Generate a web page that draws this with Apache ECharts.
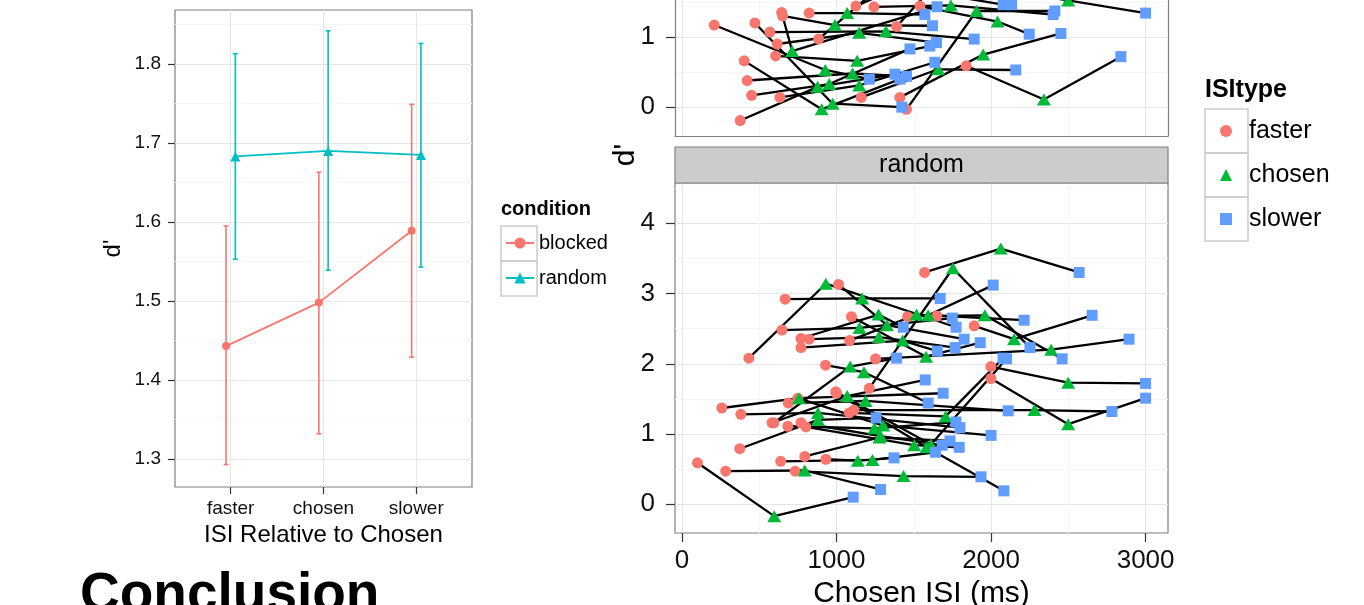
<!DOCTYPE html>
<html><head><meta charset="utf-8">
<script src="https://cdn.jsdelivr.net/npm/echarts@6/dist/echarts.min.js"></script>
<style>html,body{margin:0;padding:0;background:#fff}#chart{width:1364px;height:605px}</style>
</head><body><div id="chart"></div>
<script>
// ---------- data: left panel (mean d' by ISI type, with error bars) ----------
const isiLabels = ['faster', 'chosen', 'slower'];
const blockedMean  = [1.443, 1.498, 1.589];
const blockedLower = [1.293, 1.332, 1.429];
const blockedUpper = [1.595, 1.663, 1.749];
const randomMean   = [1.683, 1.690, 1.685];
const randomLower  = [1.553, 1.539, 1.543];
const randomUpper  = [1.813, 1.842, 1.826];
const leftYTicks = [1.3, 1.4, 1.5, 1.6, 1.7, 1.8];
const leftYMinor = [1.35, 1.45, 1.55, 1.65, 1.75, 1.85];

// ---------- data: right panels (per subject d' vs ISI) ----------
const rightXTicks = [0, 1000, 2000, 3000];
const rightXMinor = [500, 1500, 2500];
const rightYTicks = [0, 1, 2, 3, 4];
const rightYMinor = [0.5, 1.5, 2.5, 3.5, 4.5];

// random condition
const rndFasterX = [100,283,732,639,931,795,374,258,381,583,595,685,688,750,770,802,433,668,1570,1212,1013,647,1460,1649,1891,1999,1999,1113,1082,1000,929,770,823,770,1085,1097,1253,995];
const rndFasterY = [0.59,0.47,0.47,0.61,0.64,0.68,0.79,1.37,1.28,1.16,1.16,1.11,1.44,1.51,1.16,1.10,2.08,2.92,3.30,1.65,3.13,2.48,2.67,2.68,2.54,1.96,1.79,1.34,1.30,1.58,1.98,2.36,2.35,2.23,2.33,2.67,2.07,1.60];
const rndChosenX = [597,794,1434,1233,1138,1278,880,757,880,1069,1089,1245,1188,1302,1285,1503,931,1166,2063,1753,1326,1149,1593,1960,2149,2499,2499,2281,1706,1583,1178,1272,1274,1428,1518,1580,2389,1611];
const rndChosenY = [-0.17,0.48,0.40,0.63,0.62,0.95,1.20,1.51,1.30,1.54,1.96,1.08,1.47,1.12,0.97,0.84,3.14,2.93,3.64,3.36,2.55,2.51,2.69,2.69,2.35,1.73,1.14,1.34,1.25,0.81,1.88,2.70,2.38,2.33,2.70,2.10,2.20,0.85];
const rndSlowerX = [1108,1285,1935,1641,1372,1734,1256,1690,1799,1574,1389,1773,2111,2000,1684,1794,1774,1671,2570,2252,1826,1749,2014,2460,2654,3000,3000,2782,2078,2083,1593,1432,1768,1652,2214,1930,2893,2100];
const rndSlowerY = [0.10,0.21,0.39,0.74,0.66,0.90,1.23,1.58,1.09,1.77,2.08,1.17,1.33,0.98,0.84,0.81,2.52,2.93,3.30,2.23,2.35,2.65,3.12,2.07,2.69,1.72,1.51,1.32,2.08,0.19,1.44,2.52,2.23,2.18,2.62,2.30,2.35,2.07];

// blocked condition (upper facet, mostly cropped out of the picture)
const blkFasterX = [1839,1453,1160,1410,1540,1242,2000,209,472,377,403,422,451,634,606,617,569,884,823,651,645,1389,1126,300,500,700,400,900,1100,200,1300,600,1700,850,1000];
const blkFasterY = [0.59,-0.03,0.14,0.14,1.44,1.43,1.70,1.17,1.20,-0.19,0.66,0.38,0.17,0.14,0.73,0.90,1.07,0.97,1.34,1.30,1.35,1.15,1.44,1.80,2.40,1.90,2.90,2.00,3.30,2.60,2.20,3.60,2.80,1.60,1.55];
const blkChosenX = [2342,1906,1658,1949,2042,1740,2499,927,975,878,904,1104,953,1147,1134,1147,1320,1300,1069,990,713,1700,1550,800,1000,1200,900,1400,1600,750,1800,1100,2200,1350,1500];
const blkChosenY = [0.11,1.37,0.54,0.75,1.22,1.45,1.52,0.53,0.05,0.29,-0.03,0.48,0.33,0.31,0.66,1.06,1.08,1.75,1.34,1.17,0.80,1.90,1.85,2.10,2.20,2.50,3.10,2.40,3.00,2.70,2.60,4.35,3.20,1.90,2.10];
const blkSlowerX = [2840,2413,2160,2452,2247,2402,3000,1212,1423,1378,1410,1453,1475,1636,1604,1647,1891,2078,1572,1621,1651,2133,2200,1300,1500,1700,1400,1900,2100,1250,2300,1600,2700,1850,2000];
const blkSlowerY = [0.72,1.37,0.53,1.05,1.04,1.32,1.34,0.40,0.00,0.47,0.40,0.44,0.83,0.64,0.87,0.92,0.97,1.46,1.32,1.16,1.43,1.46,2.00,2.30,2.60,2.20,2.80,2.10,3.50,3.00,2.40,3.90,2.90,1.70,1.80];

// ---------- styling ----------
const FONT = '"Liberation Sans", Arial, Helvetica, sans-serif';
const C_BLOCKED = '#F8766D', C_RANDOM = '#00BFC4';
const C_FASTER = '#F8766D', C_CHOSEN = '#00BA38', C_SLOWER = '#619CFF';
const GRID_MAJOR = '#E6E6E6', GRID_MINOR = '#F6F6F6', BORDER = '#7F7F7F', TICK = '#333333';

const chart = echarts.init(document.getElementById('chart'), null, {renderer: 'canvas'});

const hiddenLine = {show: false, onZero: false};
const borderLine = {show: true, onZero: false, lineStyle: {color: BORDER, width: 1.2}};

function majorAxis(gridIndex, min, max, ticks, labelOpts, extra) {
  const inRange = ticks.filter(v => v >= min && v <= max);
  return Object.assign({
    type: 'value', gridIndex, min, max,
    axisLine: hiddenLine,
    axisTick: {show: !!labelOpts, customValues: inRange, length: labelOpts ? labelOpts.tickLen : 5, lineStyle: {color: TICK, width: 1.2}},
    axisLabel: labelOpts ? {show: true, customValues: inRange, fontFamily: FONT, fontSize: labelOpts.fontSize, color: '#111', margin: labelOpts.margin, formatter: labelOpts.formatter} : {show: false},
    splitLine: {show: true, lineStyle: {color: GRID_MAJOR, width: 1}},
    minorTick: {show: false}, minorSplitLine: {show: false}
  }, extra || {});
}
function minorAxis(gridIndex, min, max, ticks, position, extra) {
  const inRange = ticks.filter(v => v >= min && v <= max);
  return Object.assign({
    type: 'value', gridIndex, min, max, position,
    axisLine: hiddenLine,
    axisTick: {show: false, customValues: inRange},
    axisLabel: {show: false, customValues: inRange},
    splitLine: {show: true, lineStyle: {color: GRID_MINOR, width: 1.2}}
  }, extra || {});
}

const LY_MIN = 1.2646, LY_MAX = 1.8684;
const RX_MIN = -45, RX_MAX = 3145;
const RY_MIN = -0.41, RY_MAX = 4.574;
// the upper (blocked) facet is cropped by the picture: only its lower part is visible
const RY_TOP_VISIBLE = 1.5266;

const xAxis = [
  majorAxis(0, 0.4, 3.6, [1, 2, 3], {fontSize: 19, margin: 12, tickLen: 7, formatter: v => isiLabels[Math.round(v) - 1] || ''},
    {name: 'ISI Relative to Chosen', nameLocation: 'middle', nameGap: 34, nameTextStyle: {fontFamily: FONT, fontSize: 24, color: '#000'}}),
  majorAxis(1, RX_MIN, RX_MAX, rightXTicks, null, {axisLine: borderLine}),
  minorAxis(1, RX_MIN, RX_MAX, rightXMinor, 'top'),
  majorAxis(2, RX_MIN, RX_MAX, rightXTicks, {fontSize: 26, margin: 15, tickLen: 9, formatter: v => String(v)},
    {name: 'Chosen ISI (ms)', nameLocation: 'middle', nameGap: 42, nameTextStyle: {fontFamily: FONT, fontSize: 30, color: '#000'}}),
  minorAxis(2, RX_MIN, RX_MAX, rightXMinor, 'top')
];
const yAxis = [
  majorAxis(0, LY_MIN, LY_MAX, leftYTicks, {fontSize: 19, margin: 14, tickLen: 7, formatter: v => v.toFixed(1)},
    {name: "d'", nameLocation: 'middle', nameGap: 50, nameTextStyle: {fontFamily: FONT, fontSize: 24, color: '#000'}}),
  minorAxis(0, LY_MIN, LY_MAX, leftYMinor, 'right'),
  majorAxis(1, RY_MIN, RY_TOP_VISIBLE, rightYTicks, {fontSize: 26, margin: 20, tickLen: 9, formatter: v => String(v)}, {axisLine: borderLine}),
  minorAxis(1, RY_MIN, RY_TOP_VISIBLE, rightYMinor, 'right', {axisLine: borderLine}),
  majorAxis(2, RY_MIN, RY_MAX, rightYTicks, {fontSize: 26, margin: 20, tickLen: 9, formatter: v => String(v)}),
  minorAxis(2, RY_MIN, RY_MAX, rightYMinor, 'right')
];

const grid = [
  {left: 175, top: 10, width: 297, height: 477, show: true, borderColor: BORDER, borderWidth: 1.2, backgroundColor: '#fff', outerBoundsMode: 'none', containLabel: false},
  {left: 675, top: 0, width: 493, height: 136, show: false, outerBoundsMode: 'none', containLabel: false},
  {left: 675, top: 183, width: 493, height: 350, show: true, borderColor: BORDER, borderWidth: 1.2, backgroundColor: '#fff', outerBoundsMode: 'none', containLabel: false}
];

function errorBarSeries(name, color, xs, lower, upper) {
  return {
    type: 'custom', name: name, xAxisIndex: 0, yAxisIndex: 0, silent: true, z: 2,
    data: xs.map((x, i) => [x, lower[i], upper[i]]),
    encode: {x: 0, y: [1, 2]},
    renderItem: function (params, api) {
      const x = api.value(0);
      const lo = api.coord([x, api.value(1)]);
      const hi = api.coord([x, api.value(2)]);
      const w = 2.5;
      const st = {stroke: color, lineWidth: 1.6};
      return {type: 'group', children: [
        {type: 'line', shape: {x1: lo[0], y1: lo[1], x2: hi[0], y2: hi[1]}, style: st},
        {type: 'line', shape: {x1: lo[0] - w, y1: lo[1], x2: lo[0] + w, y2: lo[1]}, style: st},
        {type: 'line', shape: {x1: hi[0] - w, y1: hi[1], x2: hi[0] + w, y2: hi[1]}, style: st}
      ]};
    }
  };
}

const DODGE = 0.05;
const xBlocked = isiLabels.map((_, i) => i + 1 - DODGE);
const xRandom = isiLabels.map((_, i) => i + 1 + DODGE);

const series = [
  errorBarSeries('blocked-err', C_BLOCKED, xBlocked, blockedLower, blockedUpper),
  errorBarSeries('random-err', C_RANDOM, xRandom, randomLower, randomUpper),
  {type: 'line', name: 'blocked', xAxisIndex: 0, yAxisIndex: 0, z: 3,
   data: blockedMean.map((v, i) => [xBlocked[i], v]),
   symbol: 'circle', symbolSize: 8, showAllSymbol: true,
   lineStyle: {color: C_BLOCKED, width: 1.8}, itemStyle: {color: C_BLOCKED}},
  {type: 'line', name: 'random', xAxisIndex: 0, yAxisIndex: 0, z: 3,
   data: randomMean.map((v, i) => [xRandom[i], v]),
   symbol: 'triangle', symbolSize: 10, showAllSymbol: true,
   lineStyle: {color: C_RANDOM, width: 1.8}, itemStyle: {color: C_RANDOM}}
];

function addFacet(xIdx, yIdx, fx, fy, cx, cy, sx, sy) {
  for (let i = 0; i < fx.length; i++) {
    const pts = [[fx[i], fy[i]], [cx[i], cy[i]], [sx[i], sy[i]]].sort((a, b) => a[0] - b[0]);
    series.push({type: 'line', xAxisIndex: xIdx, yAxisIndex: yIdx, data: pts, symbol: 'none', silent: true, z: 2, clip: true,
      lineStyle: {color: '#000', width: 2.3}, legendHoverLink: false});
  }
  series.push({type: 'scatter', name: 'faster', xAxisIndex: xIdx, yAxisIndex: yIdx, z: 4, clip: true,
    data: fx.map((x, i) => [x, fy[i]]), symbol: 'circle', symbolSize: 11, itemStyle: {color: C_FASTER, opacity: 1}});
  series.push({type: 'scatter', name: 'chosen', xAxisIndex: xIdx, yAxisIndex: yIdx, z: 4, clip: true,
    data: cx.map((x, i) => [x, cy[i]]), symbol: 'triangle', symbolSize: [14, 12], itemStyle: {color: C_CHOSEN, opacity: 1}});
  series.push({type: 'scatter', name: 'slower', xAxisIndex: xIdx, yAxisIndex: yIdx, z: 4, clip: true,
    data: sx.map((x, i) => [x, sy[i]]), symbol: 'rect', symbolSize: 11, itemStyle: {color: C_SLOWER, opacity: 1}});
}
addFacet(1, 2, blkFasterX, blkFasterY, blkChosenX, blkChosenY, blkSlowerX, blkSlowerY);
addFacet(3, 4, rndFasterX, rndFasterY, rndChosenX, rndChosenY, rndSlowerX, rndSlowerY);

const legendBox = {stroke: '#CCCCCC', fill: 'none', lineWidth: 1.5};
const graphic = [
  {type: 'rect', shape: {x: 675, y: 147, width: 493, height: 36}, style: {fill: '#CCCCCC', stroke: BORDER, lineWidth: 1.2}, z: 10},
  {type: 'text', x: 921.5, y: 165, z: 11, style: {text: 'random', fill: '#000', font: '25px ' + FONT, align: 'center', verticalAlign: 'middle', textAlign: 'center', textVerticalAlign: 'middle'}},
  {type: 'text', x: 626, y: 155, rotation: Math.PI / 2, z: 11, style: {text: "d'", fill: '#000', font: '30px ' + FONT, align: 'center', verticalAlign: 'middle', textAlign: 'center', textVerticalAlign: 'middle'}},
  {type: 'text', x: 501, y: 209, z: 11, style: {text: 'condition', fill: '#000', font: 'bold 20px ' + FONT, align: 'left', verticalAlign: 'middle', textAlign: 'left', textVerticalAlign: 'middle'}},
  {type: 'rect', shape: {x: 501, y: 226, width: 36, height: 35}, style: legendBox, z: 1},
  {type: 'rect', shape: {x: 501, y: 261, width: 36, height: 35}, style: legendBox, z: 1},
  {type: 'text', x: 1205, y: 90, z: 11, style: {text: 'ISItype', fill: '#000', font: 'bold 25px ' + FONT, align: 'left', verticalAlign: 'middle', textAlign: 'left', textVerticalAlign: 'middle'}},
  {type: 'rect', shape: {x: 1205, y: 109, width: 43, height: 44}, style: legendBox, z: 1},
  {type: 'rect', shape: {x: 1205, y: 153, width: 43, height: 44}, style: legendBox, z: 1},
  {type: 'rect', shape: {x: 1205, y: 197, width: 43, height: 44}, style: legendBox, z: 1},
  {type: 'text', x: 80, y: 596, z: 11, style: {text: 'Conclusion', fill: '#000', font: 'bold 55px ' + FONT, align: 'left', verticalAlign: 'middle', textAlign: 'left', textVerticalAlign: 'middle'}}
];

const option = {
  animation: false,
  backgroundColor: '#fff',
  textStyle: {fontFamily: FONT},
  grid, xAxis, yAxis, series, graphic,
  legend: [
    {data: ['blocked', 'random'], orient: 'vertical', left: 505, top: 233, padding: 0,
     itemWidth: 28, itemHeight: 14, itemGap: 15, selectedMode: false,
     textStyle: {fontFamily: FONT, fontSize: 20, color: '#000', lineHeight: 20}},
    {data: ['faster', 'chosen', 'slower'], orient: 'vertical', left: 1220, top: 118.5, padding: 0,
     itemWidth: 12, itemHeight: 12, itemGap: 19, selectedMode: false,
     textStyle: {fontFamily: FONT, fontSize: 25, color: '#000', lineHeight: 25, padding: [0, 0, 0, 12]}}
  ]
};
chart.setOption(option);
</script></body></html>
